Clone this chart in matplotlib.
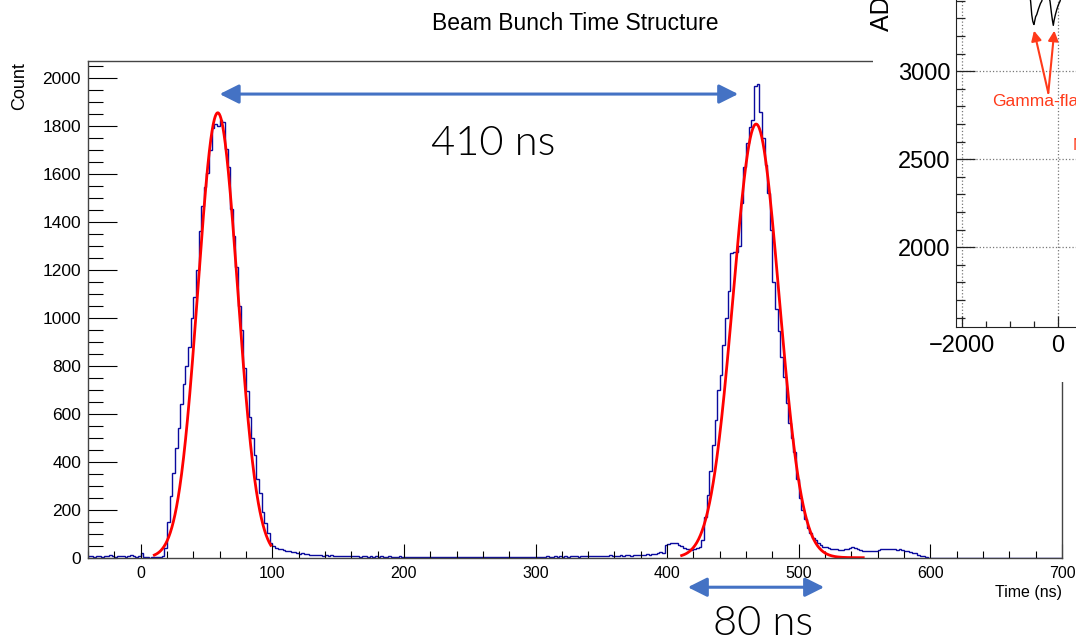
import numpy as np
import matplotlib.pyplot as plt
from matplotlib.ticker import MultipleLocator

plt.rcParams['font.family'] = ['Liberation Sans', 'DejaVu Sans']

# ---- histogram, 2 ns bins starting at -40 ns ----
bin_start = -40
bin_width = 2
pre_counts = [6, 8, 5, 9, 7, 4, 8, 6, 10, 7, 5, 9, 6, 8, 4, 7, 10, 6, 5, 8,
              21, 2, 1, 0, 2]                                   # -40 .. 8
peak1_counts = [3, 5, 4, 8, 40, 150, 256, 352, 456, 540,          # 10 .. 128
                640, 725, 800, 880, 1000, 1085, 1200, 1360, 1465, 1545,
                1605, 1700, 1790, 1808, 1800, 1825, 1815, 1705, 1630, 1455,
                1340, 1210, 1050, 950, 790, 695, 585, 500, 430, 330,
                268, 192, 145, 102, 62, 48, 42, 38, 35, 32,
                30, 26, 22, 24, 20, 17, 18, 14, 15, 12]
mid_counts = [12, 11, 13, 10, 9, 11, 8, 10, 9, 7, 9, 8, 6, 9, 7, 8, 6, 7, 5, 8,   # 130 .. 388
              6, 5, 7, 4, 6, 5, 8, 4, 5, 6, 3, 5, 4, 6, 3, 5, 4, 2, 4, 3,
              3, 4, 2, 3, 5, 2, 3, 4, 2, 3, 2, 4, 3, 2, 3, 2, 4, 3, 2, 3,
              3, 2, 4, 3, 2, 3, 4, 2, 3, 4, 3, 2, 3, 5, 3, 4, 2, 3, 4, 3,
              4, 3, 5, 4, 3, 5, 4, 3, 4, 6, 5, 4, 6, 5, 7, 5, 6, 4, 6, 7,
              6, 5, 7, 6, 8, 6, 7, 9, 6, 8, 7, 9, 8, 10, 7, 9, 8, 10, 9, 11,
              10, 9, 12, 11, 13, 10, 12, 14, 12, 16]
peak2_counts = [15, 18, 22, 20, 55, 58, 62, 60, 62, 55,          # 390 .. 558
                50, 42, 38, 35, 33, 36, 40, 45, 75, 170,
                262, 360, 470, 575, 700, 760, 885, 1000, 1110, 1270,
                1275, 1272, 1300, 1477, 1630, 1727, 1796, 1825, 1965, 1975,
                1857, 1747, 1636, 1518, 1365, 1150, 1035, 945, 838, 754,
                643, 560, 500, 440, 330, 250, 200, 160, 122, 105,
                82, 74, 60, 53, 46, 44, 40, 38, 36, 35,
                34, 32, 36, 38, 42, 44, 40, 38, 34, 30,
                28, 30, 28, 26, 30]
tail_counts = [32, 35, 38, 36, 38, 35, 37, 34, 36, 33,           # 560 .. 698
               30, 28, 22, 20, 18, 10, 8, 6, 2, 0] + [0] * 50

# ---- gaussian fits ----
fit_amp = [1854, 1807]
fit_mean = [58.6, 467.6]
fit_sigma = [15.05, 17.4]
fit_lo = [10.4, 411]
fit_hi = [98.9, 549]

# ---- inset (piece of another plot) ----
wave_t = [-650, -600, -565, -540, -520, -505, -494, -480, -460, -437, -400, -360, -333, -300,
          -250, -200, -160, -130, -110, -92, -75, -50, -20, 10, 48, 90, 150]
wave_adc = [3480, 3450, 3400, 3320, 3285, 3272, 3266, 3285, 3310, 3322, 3355, 3385, 3398, 3430,
            3450, 3440, 3398, 3330, 3290, 3261, 3290, 3320, 3350, 3375, 3398, 3440, 3480]
flash_t = [-494, -71]
flash_adc = [3231, 3231]

W, H = 1076, 641
fig = plt.figure(figsize=(W / 100, H / 100), dpi=100)


def px(x0, y0, x1, y1):
    """pixel box (origin top left) -> figure rect"""
    return [x0 / W, 1 - y1 / H, (x1 - x0) / W, (y1 - y0) / H]


ax = fig.add_axes(px(88, 60.7, 1062, 557.7))
counts = np.array(pre_counts + peak1_counts + mid_counts + peak2_counts + tail_counts)
edges = bin_start + bin_width * np.arange(len(counts) + 1)
ax.stairs(counts, edges, color='#0a0a9e', lw=1.0)

for a, m, s, lo, hi in zip(fit_amp, fit_mean, fit_sigma, fit_lo, fit_hi):
    xx = np.linspace(lo, hi, 300)
    ax.plot(xx, a * np.exp(-0.5 * ((xx - m) / s) ** 2), color='red', lw=2)

ax.set_xlim(-40, 700)
ax.set_ylim(0, 2071)
ax.xaxis.set_major_locator(MultipleLocator(100))
ax.xaxis.set_minor_locator(MultipleLocator(20))
ax.yaxis.set_major_locator(MultipleLocator(200))
ax.yaxis.set_minor_locator(MultipleLocator(50))
ax.tick_params(which='both', direction='in', top=False, right=False, color='black', width=0.8)
ax.tick_params(axis='y', which='major', length=21, pad=5, labelsize=12.5)
ax.tick_params(axis='y', which='minor', length=10.5)
ax.tick_params(axis='x', which='major', length=10, pad=6, labelsize=11.5)
ax.tick_params(axis='x', which='minor', length=5)
for s in ax.spines.values():
    s.set_color('#444444')
    s.set_linewidth(1.0)

blue = '#4472C4'
arrow = dict(arrowstyle='<|-|>,head_length=0.58,head_width=0.29', mutation_scale=20,
             color=blue, lw=2.2, shrinkA=0, shrinkB=0)
ax.annotate('', xy=(454, 1932), xytext=(60, 1932), arrowprops=arrow, annotation_clip=False)
ax.annotate('', xy=(519.3, -123), xytext=(415.7, -123), arrowprops=arrow, annotation_clip=False)
big = dict(ha='center', va='baseline', fontsize=30, family=['Lato', 'DejaVu Sans'],
           weight=300, color='black')
ax.text(268, 1678, '410 ns', **big)
ax.text(473, -322, '80 ns', clip_on=False, **big)

fig.text(575 / W, 1 - 30 / H, 'Beam Bunch Time Structure', ha='center', va='baseline', fontsize=16.5)
fig.text(20 / W, 1 - 61.7 / H, 'Count', rotation=90, ha='center', va='top', fontsize=13)
fig.text(1062 / W, 1 - 592 / H, 'Time (ns)', ha='right', va='center', fontsize=11.5)

# white backing for the pasted inset
bg = fig.add_axes(px(873, 0, 1076, 382))
bg.set_facecolor('white')
bg.set_xticks([])
bg.set_yticks([])
for s in bg.spines.values():
    s.set_visible(False)

ax_in = fig.add_axes(px(955.7, -35, 1154, 327))
ax_in.plot(wave_t, wave_adc, color='black', lw=1)
ax_in.set_xlim(-2125, 2006)
ax_in.set_ylim(1547, 3604)
ax_in.xaxis.set_major_locator(MultipleLocator(2000))
ax_in.xaxis.set_minor_locator(MultipleLocator(500))
ax_in.yaxis.set_major_locator(MultipleLocator(500))
ax_in.yaxis.set_minor_locator(MultipleLocator(100))
ax_in.grid(True, which='major', ls=':', color='#777777', lw=0.9)
ax_in.tick_params(which='both', direction='in', color='#222222', width=0.9, labelsize=17)
ax_in.tick_params(axis='y', which='major', length=13.7, pad=4)
ax_in.tick_params(axis='y', which='minor', length=6.5)
ax_in.tick_params(axis='x', which='major', length=8, pad=5.5)
ax_in.tick_params(axis='x', which='minor', length=4)
for s in ax_in.spines.values():
    s.set_color('#222222')

red = '#ff3a1a'
for t, v in zip(flash_t, flash_adc):
    ax_in.annotate('', xy=(t, v), xytext=(-196, 2877),
                   arrowprops=dict(arrowstyle='-|>,head_length=0.5,head_width=0.25',
                                   mutation_scale=12, color=red, lw=1.5, shrinkA=0, shrinkB=0))
ax_in.text(-1375, 2830, 'Gamma-flash', color=red, fontsize=12.5, ha='left', va='center')
ax_in.text(320, 2580, 'Neutrons', color=red, fontsize=12.5, ha='left', va='center')
fig.text(882 / W, 1 - 31 / H, 'ADC channel', rotation=90, ha='center', va='bottom', fontsize=18)

fig.savefig('out.png', dpi=100)
